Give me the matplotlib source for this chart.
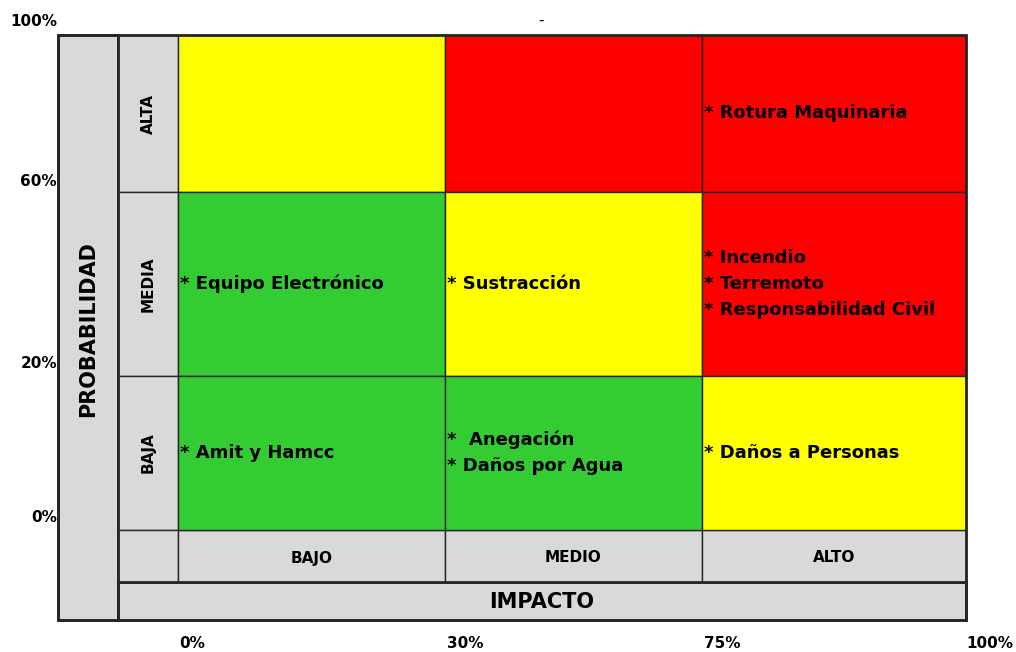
import matplotlib.pyplot as plt
from matplotlib.patches import Rectangle

# data
prob_levels = ["ALTA", "MEDIA", "BAJA"]
impact_levels = ["BAJO", "MEDIO", "ALTO"]
cell_level = [
    ["amarillo", "rojo", "rojo"],
    ["verde", "amarillo", "rojo"],
    ["verde", "verde", "amarillo"],
]
cell_risks = [
    [[], [], ["* Rotura Maquinaria"]],
    [["* Equipo Electrónico"], ["* Sustracción"],
     ["* Incendio", "* Terremoto", "* Responsabilidad Civil"]],
    [["* Amit y Hamcc"], ["*  Anegación", "* Daños por Agua"], ["* Daños a Personas"]],
]
y_ticks = ["100%", "60%", "20%", "0%"]
x_ticks = ["0%", "30%", "75%", "100%"]

# layout (pixels)
level_colors = {"verde": "#33CC33", "amarillo": "#FFFF00", "rojo": "#FF0000"}
gray = "#D9D9D9"
edge = "#262626"
col_edges = [178, 445, 702, 966]
row_edges = [35, 192, 376, 530]
left, outer_l, top, bottom = 118, 58, 35, 620
lab_bottom, imp_bottom = 582, 620
y_tick_pos = [22, 182, 364, 517]
x_tick_pos = [192, 465, 722, 990]
font = "DejaVu Sans"

fig = plt.figure(figsize=(10.16, 6.52), dpi=100)
ax = fig.add_axes([0, 0, 1, 1])
ax.set_xlim(0, 1016)
ax.set_ylim(652, 0)
ax.axis("off")


def box(x0, y0, x1, y1, fc, lw=1.0):
    ax.add_patch(Rectangle((x0, y0), x1 - x0, y1 - y0, facecolor=fc,
                           edgecolor=edge, linewidth=lw))


# outer probability column and impact bar
box(outer_l, top, left, bottom, gray, 2)
ax.text((outer_l + left) / 2, (top + bottom) / 2 + 2, "PROBABILIDAD", rotation=90,
        ha="center", va="center", fontsize=15, fontweight="bold", family=font)
box(left, lab_bottom, col_edges[-1], imp_bottom, gray, 2)
ax.text((left + col_edges[-1]) / 2, (lab_bottom + imp_bottom) / 2 + 1, "IMPACTO",
        ha="center", va="center", fontsize=15, fontweight="bold", family=font)

# row labels
for i, name in enumerate(prob_levels):
    y0, y1 = row_edges[i], row_edges[i + 1]
    box(left, y0, col_edges[0], y1, gray, 1)
    ax.text((left + col_edges[0]) / 2, (y0 + y1) / 2, name, rotation=90,
            ha="center", va="center", fontsize=11, fontweight="bold", family=font)
box(left, row_edges[-1], col_edges[0], lab_bottom, gray, 1)

# column labels
for j, name in enumerate(impact_levels):
    x0, x1 = col_edges[j], col_edges[j + 1]
    box(x0, row_edges[-1], x1, lab_bottom, gray, 1)
    ax.text((x0 + x1) / 2, (row_edges[-1] + lab_bottom) / 2 + 2, name,
            ha="center", va="center", fontsize=11, fontweight="bold", family=font)

# matrix cells
for i in range(len(prob_levels)):
    for j in range(len(impact_levels)):
        x0, x1 = col_edges[j], col_edges[j + 1]
        y0, y1 = row_edges[i], row_edges[i + 1]
        box(x0, y0, x1, y1, level_colors[cell_level[i][j]], 1)
        if cell_risks[i][j]:
            ax.text(x0 + 2, (y0 + y1) / 2, "\n".join(cell_risks[i][j]),
                    ha="left", va="center", fontsize=13, fontweight="bold",
                    family=font, linespacing=1.58)

# frame lines
ax.plot([left, left], [top, bottom], color=edge, lw=2)
ax.plot([left, col_edges[-1]], [lab_bottom, lab_bottom], color=edge, lw=2)
ax.add_patch(Rectangle((outer_l, top), col_edges[-1] - outer_l, bottom - top,
                       fill=False, edgecolor=edge, linewidth=2))

# tick labels
for lab, y in zip(y_ticks, y_tick_pos):
    ax.text(57, y, lab, ha="right", va="center", fontsize=11, family=font,
            fontweight="bold")
for lab, x in zip(x_ticks, x_tick_pos):
    ax.text(x, 644, lab, ha="center", va="center", fontsize=11, family=font,
            fontweight="bold")
ax.text(541, 20, "-", ha="center", va="center", fontsize=11, family=font)

fig.savefig("out.png", dpi=100)
